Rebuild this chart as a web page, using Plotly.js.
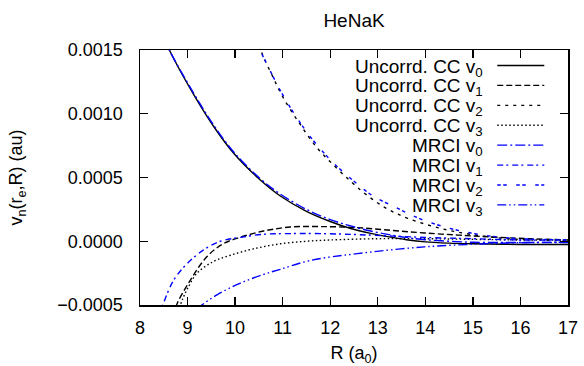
<!DOCTYPE html>
<html>
<head>
<meta charset="utf-8">
<script src="https://cdn.plot.ly/plotly-3.0.1.min.js"></script>
<style>html,body{margin:0;padding:0;background:#fff;} #chart{width:584px;height:366px;}</style>
</head>
<body>
<div id="chart"></div>
<script>
// ---- data ----
const ccV0_R = [8.5, 8.63, 9.13, 9.55, 9.97, 10.53, 10.95, 11.5, 12.0, 12.43, 12.85, 13.27, 13.6, 14.0, 14.5, 15.0, 16.0, 17.0];
const ccV0_v = [0.00160, 0.00149, 0.00115, 0.00090, 0.00069, 0.00048, 0.000355, 0.000235, 0.000155, 0.000100, 0.000062, 0.000032, 0.000012, -0.000005, -0.000015, -0.00002, -0.000025, -0.000025];

const ccV1_R = [8.7, 8.78, 9.05, 9.41, 9.75, 10.1, 10.6, 11.16, 11.8, 12.57, 13.3, 13.98, 14.7, 15.38, 16.2, 17.0];
const ccV1_v = [-0.00058, -0.00049, -0.00031, -0.00012, -0.00002, 0.00003, 0.00008, 0.000112, 0.000115, 0.000107, 0.000085, 0.000065, 0.000048, 0.000034, 0.00002, 0.00001];

const ccV2_R = [10.45, 10.57, 10.78, 11.02, 11.38, 11.73, 12.09, 12.43, 12.71, 13.0, 13.27, 13.63, 14.33, 15.03, 15.74, 16.5, 17.0];
const ccV2_v = [0.00160, 0.00147, 0.00130, 0.00112, 0.00091, 0.00073, 0.00059, 0.00047, 0.00038, 0.00030, 0.00024, 0.00018, 0.00010, 0.00005, 0.00002, 0.00001, 0.0];

const ccV3_R = [8.8, 8.9, 9.0, 9.2, 9.54, 9.9, 10.38, 10.95, 11.5, 12.0, 13.0, 14.0, 15.0, 16.0, 17.0];
const ccV3_v = [-0.00055, -0.00045, -0.00037, -0.00025, -0.00016, -0.00011, -0.00006, -0.00002, 0.0, 0.00001, 0.00002, 0.00002, 0.000015, 0.00001, 0.00001];

const mrV0_R = [8.5, 8.63, 9.13, 9.55, 9.97, 10.53, 10.95, 11.5, 12.0, 12.43, 12.85, 13.27, 13.6, 14.0, 14.5, 15.0, 16.0, 17.0];
const mrV0_v = [0.00160, 0.00149, 0.00116, 0.00091, 0.00070, 0.00049, 0.000370, 0.000250, 0.000170, 0.000120, 0.000080, 0.000050, 0.000030, 0.000012, 0.0, -0.000008, -0.00001, -0.00001];

const mrV1_R = [8.4, 8.49, 8.7, 8.98, 9.33, 9.69, 10.1, 10.6, 11.16, 11.8, 12.57, 13.98, 15.0, 16.0, 17.0];
const mrV1_v = [-0.00058, -0.00049, -0.00031, -0.00018, -0.00007, 0.0, 0.00003, 0.000055, 0.00006, 0.00006, 0.000052, 0.00003, 0.00002, 0.00001, 0.00001];

const mrV2_R = [10.38, 10.52, 11.0, 11.5, 12.0, 12.5, 12.92, 13.3, 13.63, 14.0, 14.68, 15.38, 16.0, 17.0];
const mrV2_v = [0.00160, 0.00150, 0.00115, 0.00086, 0.00064, 0.00047, 0.00035, 0.00028, 0.00022, 0.00016, 0.000086, 0.00004, 0.00002, 0.00001];

const mrV3_R = [9.2, 9.3, 9.62, 10.1, 10.6, 10.95, 11.59, 12.57, 13.98, 15.38, 16.2, 17.0];
const mrV3_v = [-0.00053, -0.0005, -0.00042, -0.00033, -0.00026, -0.00022, -0.00015, -0.000097, -0.000044, -0.000018, -0.00001, -0.000008];

const seriesNames = ['Uncorrd. CC v<sub>0</sub>', 'Uncorrd. CC v<sub>1</sub>', 'Uncorrd. CC v<sub>2</sub>', 'Uncorrd. CC v<sub>3</sub>',
                     'MRCI v<sub>0</sub>', 'MRCI v<sub>1</sub>', 'MRCI v<sub>2</sub>', 'MRCI v<sub>3</sub>'];
const xTicks = [8, 9, 10, 11, 12, 13, 14, 15, 16, 17];
const yTicks = [-0.0005, 0.0, 0.0005, 0.0010, 0.0015];

// ---- styles ----
const seriesX = [ccV0_R, ccV1_R, ccV2_R, ccV3_R, mrV0_R, mrV1_R, mrV2_R, mrV3_R];
const seriesY = [ccV0_v, ccV1_v, ccV2_v, ccV3_v, mrV0_v, mrV1_v, mrV2_v, mrV3_v];
const colors = ['#000000', '#000000', '#000000', '#000000', '#0000ff', '#0000ff', '#0000ff', '#0000ff'];
const dashes = ['solid', '6px,3px', '3px,5px', '1.5px,2.5px',
                '10px,3px,2px,3px', '6px,3px,2px,4px', '3.5px,2.5px,3.5px,9.5px', '9px,3px,1.5px,3px,1.5px,3px'];

const traces = seriesX.map((xs, i) => ({
  x: xs, y: seriesY[i], type: 'scatter', mode: 'lines',
  line: {color: colors[i], width: 1.4, dash: dashes[i], shape: 'spline', smoothing: 1},
  showlegend: false, hoverinfo: 'skip'
}));

// custom gnuplot-style key (text right-aligned, sample to the right)
const keyTop = 0.9392, keyStep = 0.0781;
const annotations = seriesNames.map((name, i) => ({
  xref: 'paper', yref: 'paper', x: 0.8066, y: keyTop - i * keyStep,
  xanchor: 'right', yanchor: 'middle', yshift: -2, text: name, showarrow: false,
  font: {family: 'Liberation Sans, Arial, sans-serif', size: 19, color: '#000'}
}));
const shapes = seriesNames.map((name, i) => ({
  type: 'line', xref: 'paper', yref: 'paper',
  x0: 0.8347, x1: 0.9446, y0: keyTop - i * keyStep, y1: keyTop - i * keyStep,
  line: {color: colors[i], width: 1.4, dash: dashes[i]}
}));

const axisFont = {family: 'Liberation Sans, Arial, sans-serif', size: 18, color: '#000'};
const layout = {
  width: 584, height: 366,
  margin: {l: 140, r: 16, t: 50, b: 61},
  paper_bgcolor: '#fff', plot_bgcolor: '#fff',
  font: axisFont,
  title: {text: 'HeNaK', font: {family: 'Liberation Sans, Arial, sans-serif', size: 19, color: '#000'},
          x: 0.5, xref: 'paper', y: 1 - 20 / 366, yref: 'container', yanchor: 'middle'},
  xaxis: {
    range: [8, 17], tickvals: xTicks, ticktext: xTicks.map(String),
    ticks: 'inside', ticklen: 8, tickwidth: 1.3, tickcolor: '#000',
    showline: true, linecolor: '#000', linewidth: 1.5, mirror: 'ticks',
    showgrid: false, zeroline: false, tickfont: axisFont, ticklabelstandoff: 6,
    title: {text: 'R (a<sub>0</sub>)', font: axisFont, standoff: 10}
  },
  yaxis: {
    range: [-0.0005, 0.0015], tickvals: yTicks, tickformat: '.4f',
    ticks: 'inside', ticklen: 8, tickwidth: 1.3, tickcolor: '#000',
    showline: true, linecolor: '#000', linewidth: 1.5, mirror: 'ticks',
    showgrid: false, zeroline: false, tickfont: axisFont, ticklabelstandoff: 12,
    title: {text: 'v<sub>n</sub>(r<sub>e</sub>,R) (au)', font: axisFont, standoff: 30}
  },
  annotations: annotations,
  shapes: shapes
};

Plotly.newPlot('chart', traces, layout, {staticPlot: true, displayModeBar: false});
</script>
</body>
</html>
